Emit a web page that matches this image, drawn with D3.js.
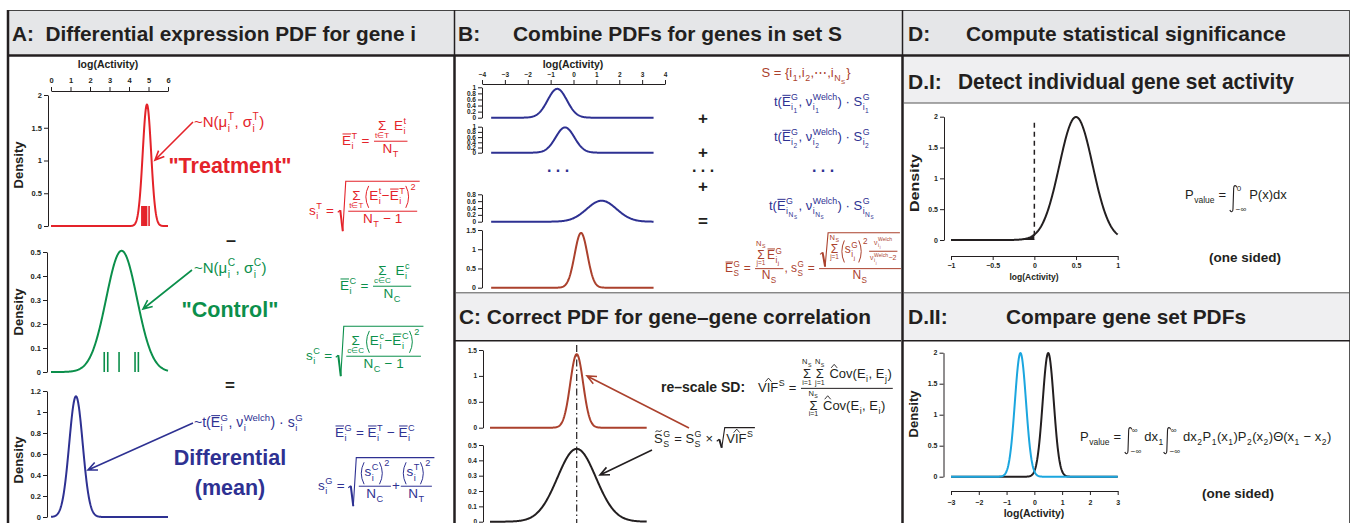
<!DOCTYPE html>
<html>
<head>
<meta charset="utf-8">
<script src="https://cdn.jsdelivr.net/npm/d3@7"></script>
<style>
body { margin: 0; background: #fff; }
svg { display: block; font-family: "Liberation Sans", Arial, Helvetica, sans-serif; }
svg text { white-space: pre; }
</style>
</head>
<body>
<script>
var width = 1350, height = 523;

// ---- data ----
// tick labels
var aActivityTicks = [0, 1, 2, 3, 4, 5, 6];
var aTreatTicks = [0, 0.5, 1, 1.5, 2];
var aControlTicks = [0, 0.1, 0.2, 0.3, 0.4, 0.5];
var aDiffTicks = [0, 0.2, 0.4, 0.6, 0.8, 1, 1.2];
var bActivityTicks = [-4, -3, -2, -1, 0, 1, 2, 3, 4];
var bGeneTicks = [0, 0.2, 0.4, 0.6, 0.8, 1];
var bLastGeneTicks = [0, 0.2, 0.4, 0.6, 0.8];
var bSumTicks = [0, 0.5, 1, 1.5];
var cTopTicks = [0, 0.5, 1, 1.5];
var cBottomTicks = [0, 0.1, 0.2, 0.3, 0.4, 0.5];
var dDensityTicks = [0, 0.5, 1, 1.5, 2];
var dIActivityTicks = [-1, -0.5, 0, 0.5, 1];
var dIIActivityTicks = [-3, -2, -1, 0, 1, 2, 3];

// densities as [mean, sd]
var treatmentPdf = [4.92, 0.215];
var controlPdf = [3.62, 0.79];
var differentialPdf = [1.28, 0.347];
var genePdfs = [[-0.71, 0.42], [-0.37, 0.41], [1.23, 0.65]];
var combinedPdf = [0.33, 0.28];
var rescaledPdf = [0.14, 0.281];
var correctedPdf = [0.14, 0.84];
var setActivityPdf = [0.5, 0.2];
var setOnePdf = [0.5, 0.2];
var setTwoPdf = [-0.5, 0.2];

// individual samples (rug marks)
var treatmentSamples = [4.66, 4.71, 4.76, 4.81, 4.86, 4.9, 5.03];
var controlSamples = [2.73, 2.91, 3.49, 4.31, 4.48];

var ink = '#231f20', red = '#e4232a', green = '#0b8f4b', navy = '#2e3192',
    brown = '#ab412d', cyan = '#1ba6df';

var svg = d3.select('body').append('svg')
  .attr('width', width)
  .attr('height', height);

var measurer = svg.append('text').style('visibility', 'hidden');
function measure(s, fs, bold) {
  measurer.attr('font-size', fs).attr('font-weight', bold ? 'bold' : 'normal').text(s);
  return measurer.node().getComputedTextLength();
}

// ---- frame ----
svg.append('rect').attr('x', 7).attr('y', 10).attr('width', 1343).attr('height', 45).attr('fill', '#e5e6e8');
svg.append('rect').attr('x', 455).attr('y', 293).attr('width', 446).attr('height', 48).attr('fill', '#efeff1');
svg.append('rect').attr('x', 903).attr('y', 57).attr('width', 447).attr('height', 46).attr('fill', '#efeff1');
svg.append('rect').attr('x', 903).attr('y', 293).attr('width', 447).attr('height', 48).attr('fill', '#efeff1');

function rule(x1, y1, x2, y2, w, c) {
  svg.append('line').attr('x1', x1).attr('y1', y1).attr('x2', x2).attr('y2', y2)
    .attr('stroke', c || ink).attr('stroke-width', w);
}
rule(7, 10.5, 1350, 10.5, 1.2, '#444');
rule(7, 55.5, 1350, 55.5, 2.5);
rule(8, 10, 8, 523, 2.5);
rule(1349.5, 10, 1349.5, 523, 1, '#555');
rule(454.5, 10, 454.5, 56, 1.5);
rule(454.5, 56, 454.5, 523, 2.5);
rule(902.5, 10, 902.5, 56, 1.5);
rule(902.5, 56, 902.5, 523, 2.5);
rule(455, 292.8, 901, 292.8, 1, '#555');
rule(455, 340.8, 901, 340.8, 1.5);
rule(903, 103, 1350, 103, 1, '#555');
rule(903, 292.8, 1350, 292.8, 1, '#555');
rule(903, 340.8, 1350, 340.8, 1.5);

function label(x, y, s, fs, opts) {
  opts = opts || {};
  var t = svg.append('text').attr('x', x).attr('y', y).attr('font-size', fs)
    .attr('font-weight', opts.normal ? null : 'bold').attr('fill', opts.color || ink)
    .attr('text-anchor', opts.anchor || 'start').text(s);
  if (opts.rotate) t.attr('transform', 'rotate(-90,' + x + ',' + y + ')');
  if (opts.len) t.attr('textLength', opts.len).attr('lengthAdjust', 'spacingAndGlyphs');
  return t;
}
label(12, 41, 'A:  Differential expression PDF for gene i', 21, {len: 404});
label(458, 41, 'B:', 21);
label(513, 41, 'Combine PDFs for genes in set S', 21, {len: 329});
label(459, 324, 'C: Correct PDF for gene\u2013gene correlation', 21, {len: 412});
label(908, 41, 'D:', 21);
label(966, 41, 'Compute statistical significance', 21, {len: 320});
label(908, 89, 'D.I:', 21);
label(958, 89, 'Detect individual gene set activity', 22.5, {len: 336});
label(908, 324, 'D.II:', 21);
label(1006, 324, 'Compare gene set PDFs', 21, {len: 240});

// ---- plotting helpers ----
function dnorm(v, p) {
  var z = (v - p[0]) / p[1];
  return Math.exp(-0.5 * z * z) / (p[1] * Math.sqrt(2 * Math.PI));
}
function grid(lo, hi) {
  return d3.range(0, 301).map(function(i) { return lo + (hi - lo) * i / 300; });
}
function curve(x, y, pdf, lo, hi, color) {
  svg.append('path').datum(grid(lo, hi))
    .attr('fill', 'none').attr('stroke', color).attr('stroke-width', 2)
    .attr('stroke-linejoin', 'round')
    .attr('d', d3.line().x(function(v) { return x(v); }).y(function(v) { return y(dnorm(v, pdf)); }));
}
function styleAxis(g, fs) {
  g.attr('font-family', null).attr('font-size', fs).attr('font-weight', 'bold');
  g.selectAll('path, line').attr('stroke', ink);
  g.selectAll('text').attr('fill', ink);
}
function leftAxis(xpos, y, ticks, fs) {
  var g = svg.append('g').attr('transform', 'translate(' + xpos + ',0)')
    .call(d3.axisLeft(y).tickValues(ticks).tickSize(4).tickSizeOuter(0).tickPadding(2).tickFormat(d3.format('~g')));
  styleAxis(g, fs);
}
function hAxis(axis, ypos, x, ticks, fs, pad) {
  var g = svg.append('g').attr('transform', 'translate(0,' + ypos + ')')
    .call(axis(x).tickValues(ticks).tickSize(4).tickSizeOuter(0).tickPadding(pad).tickFormat(d3.format('~g')));
  styleAxis(g, fs);
}
function rug(x, y0, samples, color) {
  svg.append('g').selectAll('line').data(samples).enter().append('line')
    .attr('x1', function(d) { return x(d); }).attr('x2', function(d) { return x(d); })
    .attr('y1', y0).attr('y2', y0 - 20)
    .attr('stroke', color).attr('stroke-width', 1.6);
}
function arrow(x1, y1, x2, y2, color) {
  var a = Math.atan2(y1 - y2, x1 - x2), L = 10, s = 0.42;
  var p = 'M' + x1 + ',' + y1 + 'L' + x2 + ',' + y2 +
    'M' + (x2 + L * Math.cos(a + s)) + ',' + (y2 + L * Math.sin(a + s)) + 'L' + x2 + ',' + y2 +
    'L' + (x2 + L * Math.cos(a - s)) + ',' + (y2 + L * Math.sin(a - s));
  svg.append('path').attr('d', p).attr('fill', 'none').attr('stroke', color).attr('stroke-width', 1.6);
}

// ---- tiny math layout ----
function box(w, a, d, draw) { return {w: w, a: a, d: d, draw: draw}; }
function T(s, fs, bold) {
  var w = measure(s, fs, bold);
  return box(w, fs * 0.72, fs * 0.21, function(g, x, y) {
    g.append('text').attr('x', x).attr('y', y).attr('font-size', fs)
      .attr('font-weight', bold ? 'bold' : null).text(s);
  });
}
function R() {
  var items = Array.prototype.slice.call(arguments);
  return box(d3.sum(items, function(b) { return b.w; }),
    d3.max(items, function(b) { return b.a; }),
    d3.max(items, function(b) { return b.d; }),
    function(g, x, y) { items.forEach(function(b) { b.draw(g, x, y); x += b.w; }); });
}
function SP(w) { return box(w, 0, 0, function() {}); }
function SS(base, sub, sup, fs) {
  var sw = Math.max(sub ? sub.w : 0, sup ? sup.w : 0), dn = fs * 0.32, up = fs * 0.45;
  return box(base.w + sw + 1, Math.max(base.a, sup ? up + sup.a : 0), Math.max(base.d, sub ? dn + sub.d : 0),
    function(g, x, y) {
      base.draw(g, x, y);
      if (sub) sub.draw(g, x + base.w + 0.5, y + dn);
      if (sup) sup.draw(g, x + base.w + 0.5, y - up);
    });
}
function sb(base, sub, sup, f) {
  var s = f * 0.68;
  function bx(v, size) { return v == null ? null : (typeof v === 'string' ? T(v, size) : v); }
  return SS(bx(base, f), bx(sub, s), bx(sup, s), f);
}
function hl(g, x1, x2, y, w) {
  g.append('line').attr('x1', x1).attr('x2', x2).attr('y1', y).attr('y2', y)
    .attr('stroke', 'currentColor').attr('stroke-width', w || 1);
}
function OL(b) {
  return box(b.w, b.a + 2.5, b.d, function(g, x, y) { b.draw(g, x, y); hl(g, x + 0.5, x + b.w, y - b.a - 1.3, 1); });
}
function HAT(b) {
  return box(b.w, b.a + 4, b.d, function(g, x, y) {
    b.draw(g, x, y);
    g.append('path').attr('fill', 'none').attr('stroke', 'currentColor').attr('stroke-width', 0.9)
      .attr('d', 'M' + (x + b.w * 0.5 - 3) + ',' + (y - b.a - 1) + 'L' + (x + b.w * 0.5) + ',' + (y - b.a - 4.5) + 'L' + (x + b.w * 0.5 + 3) + ',' + (y - b.a - 1));
  });
}
function TIL(b) {
  return box(b.w, b.a + 4, b.d, function(g, x, y) {
    b.draw(g, x, y);
    var t = y - b.a - 2.5;
    g.append('path').attr('fill', 'none').attr('stroke', 'currentColor').attr('stroke-width', 0.9)
      .attr('d', 'M' + (x + 1.5) + ',' + (t + 1) + 'C' + (x + b.w * 0.35) + ',' + (t - 2.5) + ' ' + (x + b.w * 0.6) + ',' + (t + 2.5) + ' ' + (x + b.w - 1) + ',' + (t - 1));
  });
}
function FR(n, m, fs) {
  var w = Math.max(n.w, m.w) + 4, ax = fs * 0.28, gp = 2;
  return box(w, ax + gp + n.d + n.a, m.a + m.d + gp - ax, function(g, x, y) {
    var by = y - ax;
    hl(g, x + 1, x + w - 1, by, 1);
    n.draw(g, x + (w - n.w) / 2, by - gp - n.d);
    m.draw(g, x + (w - m.w) / 2, by + gp + m.a);
  });
}
function SQ(b) {
  var lw = 8;
  return box(lw + b.w + 3, b.a + 3, b.d + 2, function(g, x, y) {
    var top = y - b.a - 2, bot = y + b.d + 2, mid = bot - (bot - top) * 0.42;
    g.append('path').attr('fill', 'none').attr('stroke', 'currentColor').attr('stroke-width', 1.1)
      .attr('d', 'M' + x + ',' + (mid + 2) + 'L' + (x + 2.5) + ',' + mid + 'M' + (x + 5) + ',' + bot + 'L' + (x + lw) + ',' + top + 'H' + (x + lw + b.w + 3));
    g.append('path').attr('fill', 'none').attr('stroke', 'currentColor').attr('stroke-width', 2)
      .attr('d', 'M' + (x + 2.5) + ',' + mid + 'L' + (x + 5) + ',' + bot);
    b.draw(g, x + lw + 1.5, y);
  });
}
function SUM(lo, hi, fs) {
  var s = T('\u03a3', fs), w = Math.max(s.w, lo ? lo.w : 0, hi ? hi.w : 0);
  var loY = s.d * 0.6 + (lo ? lo.a : 0), hiY = s.a + 1 + (hi ? hi.d : 0);
  return box(w + 1, s.a + (hi ? hi.a + hi.d + 1 : 0), Math.max(s.d, lo ? loY + lo.d : 0), function(g, x, y) {
    s.draw(g, x + (w - s.w) / 2, y);
    if (lo) lo.draw(g, x + (w - lo.w) / 2, y + loY);
    if (hi) hi.draw(g, x + (w - hi.w) / 2, y - hiY);
  });
}
function PA(b, sup, fs) {
  var pw = fs * 0.32, top = b.a + 1.5, bot = b.d + 1.5, sw = sup ? sup.w + 1 : 0;
  return box(2 * pw + b.w + sw + 1, Math.max(top, sup ? top + sup.a * 0.4 : 0), bot, function(g, x, y) {
    var y0 = y - top, y1 = y + bot, ym = (y0 + y1) / 2, xr = x + pw + b.w + 1;
    g.append('path').attr('fill', 'none').attr('stroke', 'currentColor').attr('stroke-width', 1)
      .attr('d', 'M' + (x + pw) + ',' + y0 + 'Q' + (x - pw * 0.3) + ',' + ym + ' ' + (x + pw) + ',' + y1 +
        'M' + xr + ',' + y0 + 'Q' + (xr + pw * 1.3) + ',' + ym + ' ' + xr + ',' + y1);
    b.draw(g, x + pw + 0.5, y);
    if (sup) sup.draw(g, xr + pw + 0.5, y0 + sup.a * 0.6);
  });
}
function INT(lo, hi, fs) {
  var iw = 7, top = fs * 1.05, bot = fs * 1.0, lw = Math.max(lo.w, hi.w);
  return box(iw + lw + 2, top + 2, bot + 2, function(g, x, y) {
    var y0 = y - top, y1 = y + bot;
    g.append('path').attr('fill', 'none').attr('stroke', 'currentColor').attr('stroke-width', 1.1)
      .attr('d', 'M' + (x + iw) + ',' + (y0 + 2) + 'C' + (x + iw - 1) + ',' + (y0 - 0.5) + ' ' + (x + iw * 0.55) + ',' + (y0 - 0.5) + ' ' + (x + iw * 0.55) + ',' + (y0 + 3) +
        'L' + (x + iw * 0.45) + ',' + (y1 - 3) + 'C' + (x + iw * 0.45) + ',' + (y1 + 0.5) + ' ' + (x + 1) + ',' + (y1 + 0.5) + ' ' + x + ',' + (y1 - 2));
    hi.draw(g, x + iw, y0 + hi.a);
    lo.draw(g, x + iw - 1, y1);
  });
}
function put(node, x, y, color, anchor) {
  var g = svg.append('g').attr('fill', color).style('color', color);
  node.draw(g, anchor === 'middle' ? x - node.w / 2 : x, y);
  return node;
}

// ================= Panel A =================
var xA = d3.scaleLinear().domain([0, 6]).range([51, 168]);
var yTreat = d3.scaleLinear().domain([0, 2]).range([226, 95]);
var yControl = d3.scaleLinear().domain([0, 0.5]).range([372, 252]);
var yDiff = d3.scaleLinear().domain([0, 1.2]).range([517, 391]);

hAxis(d3.axisTop, 91, xA, aActivityTicks, 7.5, 4);
label(108, 68, 'log(Activity)', 10.5, {anchor: 'middle'});
leftAxis(48, yTreat, aTreatTicks, 7.5);
leftAxis(47, yControl, aControlTicks, 7.5);
leftAxis(47, yDiff, aDiffTicks, 7.5);
label(23, 165, 'Density', 13, {anchor: 'middle', rotate: true});
label(23, 312, 'Density', 13, {anchor: 'middle', rotate: true});
label(23, 460, 'Density', 13, {anchor: 'middle', rotate: true});

curve(xA, yTreat, treatmentPdf, 0, 6, red);
rug(xA, yTreat(0), treatmentSamples, red);
curve(xA, yControl, controlPdf, 0, 6, green);
rug(xA, yControl(0), controlSamples, green);
curve(xA, yDiff, differentialPdf, 0, 6, navy);

arrow(193, 122, 155, 160, red);
arrow(192, 270, 143, 309, green);
arrow(193, 423, 88, 470, navy);

label(230, 173, '"Treatment"', 21.5, {anchor: 'middle', color: red});
label(230, 317, '"Control"', 21.5, {anchor: 'middle', color: green});
label(230, 465, 'Differential', 21.5, {anchor: 'middle', color: navy});
label(230, 495, '(mean)', 21.5, {anchor: 'middle', color: navy});
label(231, 246, '\u2013', 18, {anchor: 'middle'});
label(230, 391, '=', 17, {anchor: 'middle'});

(function() {
  var f = 15;
  put(R(T('~N(', f), sb('\u03bc', 'i', 'T', f), T(', ', f), sb('\u03c3', 'i', 'T', f), T(')', f)), 194, 127, red);
  put(R(T('~N(', f), sb('\u03bc', 'i', 'C', f), T(', ', f), sb('\u03c3', 'i', 'C', f), T(')', f)), 194, 273, green);
  f = 14;
  put(R(T('~t(', f), sb(OL(T('E', f)), 'i', 'G', f), T(', ', f), sb('\u03bd', 'i', 'Welch', f), T(') \u00b7 ', f), sb('s', 'i', 'G', f)), 194, 427, navy);

  f = 13.5;
  function Eb() { return OL(T('E', f)); }
  function meanF(B, b) {
    return R(sb(Eb(), 'i', B, f), T(' = ', f),
      FR(R(SUM(T(b + '\u2208' + B, 8), null, f), T(' ', f), sb('E', 'i', b, f)), sb('N', B, null, f), f));
  }
  function sdF(B, b) {
    return R(sb('s', 'i', B, f), T(' = ', f),
      SQ(FR(R(SUM(T(b + '\u2208' + B, 8), null, f),
              PA(R(sb('E', 'i', b, f), T('\u2212', f), sb(Eb(), 'i', B, f)), T('2', f * 0.68), f)),
            R(sb('N', B, null, f), T(' \u2212 1', f)), f)));
  }
  put(meanF('T', 't'), 342, 145, red);
  put(sdF('T', 't'), 309, 215, red);
  put(meanF('C', 'c'), 340, 290, green);
  put(sdF('C', 'c'), 306, 360, green);
  put(R(sb(Eb(), 'i', 'G', f), T(' = ', f), sb(Eb(), 'i', 'T', f), T(' \u2212 ', f), sb(Eb(), 'i', 'C', f)), 335, 437, navy);
  put(R(sb('s', 'i', 'G', f), T(' = ', f),
    SQ(R(FR(PA(sb('s', 'i', 'C', f), T('2', f * 0.68), f), sb('N', 'C', null, f), f), T('+', f),
         FR(PA(sb('s', 'i', 'T', f), T('2', f * 0.68), f), sb('N', 'T', null, f), f)))), 318, 490, navy);
})();

// ================= Panel B =================
var xB = d3.scaleLinear().domain([-4, 4]).range([482, 665]);
var yB = [
  d3.scaleLinear().domain([0, 1]).range([117.7, 87.3]),
  d3.scaleLinear().domain([0, 1]).range([152.7, 126.7]),
  d3.scaleLinear().domain([0, 0.8]).range([221.7, 194.3])
];
var yBSum = d3.scaleLinear().domain([0, 1.5]).range([287.7, 230]);

hAxis(d3.axisTop, 84, xB, bActivityTicks, 6.5, 3);
label(573, 68, 'log(Activity)', 10.5, {anchor: 'middle'});
leftAxis(482, yB[0], bGeneTicks, 6.5);
leftAxis(482, yB[1], bGeneTicks, 6.5);
leftAxis(482, yB[2], bLastGeneTicks, 6.5);
leftAxis(482, yBSum, bSumTicks, 7);
genePdfs.forEach(function(p, i) { curve(xB, yB[i], p, -3.6, 3.5, navy); });
curve(xB, yBSum, combinedPdf, -3.6, 3.5, brown);

label(558, 172, '. . .', 16, {anchor: 'middle', color: navy});
label(703, 124, '+', 17, {anchor: 'middle'});
label(703, 158, '+', 17, {anchor: 'middle'});
label(703, 172, '. . .', 16, {anchor: 'middle'});
label(703, 192, '+', 17, {anchor: 'middle'});
label(703, 227, '=', 17, {anchor: 'middle'});
label(823, 172, '. . .', 16, {anchor: 'middle', color: navy});

(function() {
  var f = 13, s = f * 0.68;
  function isub(k, size) { size = size || s; return SS(T('i', size), typeof k === 'string' ? T(k, size * 0.75) : k, null, size); }
  function ns(size) { return SS(T('N', size), T('S', size * 0.7), null, size); }
  function tTerm(k) {
    return R(T('t(', f), SS(OL(T('E', f)), isub(k), T('G', s), f), T(', ', f),
      SS(T('\u03bd', f), isub(k), T('Welch', s), f), T(') \u00b7 ', f), SS(T('S', f), isub(k), T('G', s), f));
  }
  put(R(T('S = {', f), SS(T('i', f), T('1', s), null, f), T(',', f), SS(T('i', f), T('2', s), null, f),
    T(',\u22ef,', f), SS(T('i', f), ns(s), null, f), T('}', f)), 806, 77, brown, 'middle');
  put(tTerm('1'), 822, 106, navy, 'middle');
  put(tTerm('2'), 822, 141, navy, 'middle');
  put(tTerm(ns(s * 0.75)), 822, 210, navy, 'middle');

  f = 12; s = f * 0.68;
  var v = 7, vs = 5;
  function nu() { return SS(T('\u03bd', v), SS(T('i', vs), T('j', vs * 0.75), null, vs), T('Welch', vs), v); }
  put(R(SS(OL(T('E', f)), T('S', s), T('G', s), f), T(' = ', f),
    FR(R(SUM(T('j=1', 6.5), ns(7.5), f), SS(OL(T('E', f)), isub('j'), T('G', s), f)), SS(T('N', f), T('S', s), null, f), f),
    T(', ', f), SS(T('s', f), T('S', s), T('G', s), f), T(' = ', f),
    FR(SQ(R(SUM(T('j=1', 6.5), ns(7.5), f), PA(SS(T('s', f), isub('j'), T('G', s), f), T('2', s), f),
            FR(nu(), R(nu(), T('\u22122', v)), v))),
       SS(T('N', f), T('S', s), null, f), f)), 725, 272, brown);
})();

// ================= Panel C =================
var yCTop = d3.scaleLinear().domain([0, 1.5]).range([427.7, 350]);
var yCBottom = d3.scaleLinear().domain([0, 0.5]).range([521.7, 445]);
leftAxis(483, yCTop, cTopTicks, 6.5);
leftAxis(483, yCBottom, cBottomTicks, 6.5);
svg.append('line').attr('x1', xB(rescaledPdf[0])).attr('x2', xB(rescaledPdf[0]))
  .attr('y1', 345).attr('y2', 523).attr('stroke', ink).attr('stroke-width', 1.2)
  .attr('stroke-dasharray', '7,3,1.5,3');
curve(xB, yCTop, rescaledPdf, -3.65, 3.2, brown);
curve(xB, yCBottom, correctedPdf, -3.65, 3.2, ink);
arrow(689, 428, 587, 376, brown);
arrow(652, 450, 600, 475, ink);
label(661, 392, 're\u2013scale SD:', 14);

(function() {
  var f = 13, s = f * 0.68;
  function ns(size) { return SS(T('N', size), T('S', size * 0.7), null, size); }
  function vif() { return SS(R(T('V', f), HAT(T('I', f)), T('F', f)), null, T('S', s), f); }
  function cov(a, b) {
    return R(HAT(T('C', f)), T('ov(', f), SS(T('E', f), T(a, s), null, f), T(', ', f), SS(T('E', f), T(b, s), null, f), T(')', f));
  }
  put(R(vif(), T(' = ', f),
    FR(R(SUM(T('i=1', 7), ns(7.5), f), SP(2), SUM(T('j=1', 7), ns(7.5), f), T(' ', f), cov('i', 'j')),
       R(SUM(T('i=1', 7), ns(7.5), f), T(' ', f), cov('i', 'i')), f)), 758, 392, ink);
  put(R(SS(TIL(T('S', f)), T('S', s), T('G', s), f), T(' = ', f), SS(T('S', f), T('S', s), T('G', s), f),
    T(' \u00d7 ', f), SQ(vif())), 654, 443, ink);
})();

// ================= Panel D =================
var xDI = d3.scaleLinear().domain([-1, 1]).range([951, 1117.7]);
var yDI = d3.scaleLinear().domain([0, 2]).range([240, 116.7]);
var xDII = d3.scaleLinear().domain([-3, 3]).range([951, 1117.7]);
var yDII = d3.scaleLinear().domain([0, 2]).range([476.7, 352.7]);

leftAxis(944, yDI, dDensityTicks, 7);
hAxis(d3.axisBottom, 256, xDI, dIActivityTicks, 7, 3);
label(1034, 280, 'log(Activity)', 8.5, {anchor: 'middle'});
label(919, 183, 'Density', 13, {anchor: 'middle', rotate: true, len: 58});
svg.append('path').datum(grid(-1, 0))
  .attr('fill', ink)
  .attr('d', d3.area().x(function(v) { return xDI(v); }).y0(yDI(0)).y1(function(v) { return yDI(dnorm(v, setActivityPdf)); }));
svg.append('line').attr('x1', xDI(0)).attr('x2', xDI(0)).attr('y1', 122.7).attr('y2', yDI(0))
  .attr('stroke', ink).attr('stroke-width', 1.5).attr('stroke-dasharray', '5,4');
curve(xDI, yDI, setActivityPdf, -1, 1, ink);

leftAxis(943.5, yDII, dDensityTicks, 7);
hAxis(d3.axisBottom, 491, xDII, dIIActivityTicks, 7, 5);
label(1034, 517, 'log(Activity)', 10.5, {anchor: 'middle'});
label(918, 414, 'Density', 13, {anchor: 'middle', rotate: true});
curve(xDII, yDII, setOnePdf, -3, 3, ink);
curve(xDII, yDII, setTwoPdf, -3, 3, cyan);

label(1245, 262, '(one sided)', 13.5, {anchor: 'middle'});
label(1238, 498, '(one sided)', 13.5, {anchor: 'middle'});

(function() {
  var f = 13, s = 8.5;
  function pv() { return SS(T('P', f), T('value', s), null, f); }
  function sub(b, k) { return SS(T(b, f), T(k, s), null, f); }
  put(R(pv(), T(' = ', f), INT(T('\u2212\u221e', 8), T('0', 8), f), T('P(x)dx', f)), 1185, 199, ink);
  put(R(pv(), T(' = ', f), INT(T('\u2212\u221e', 8), T('\u221e', 8), f), sub('dx', '1'),
    INT(T('\u2212\u221e', 8), T('\u221e', 8), f), sub('dx', '2'), sub('P', '1'), T('(', f), sub('x', '1'), T(')', f),
    sub('P', '2'), T('(', f), sub('x', '2'), T(')\u0398(', f), sub('x', '1'), T(' \u2212 ', f), sub('x', '2'), T(')', f)),
    1080, 441, ink);
})();
</script>
</body>
</html>
